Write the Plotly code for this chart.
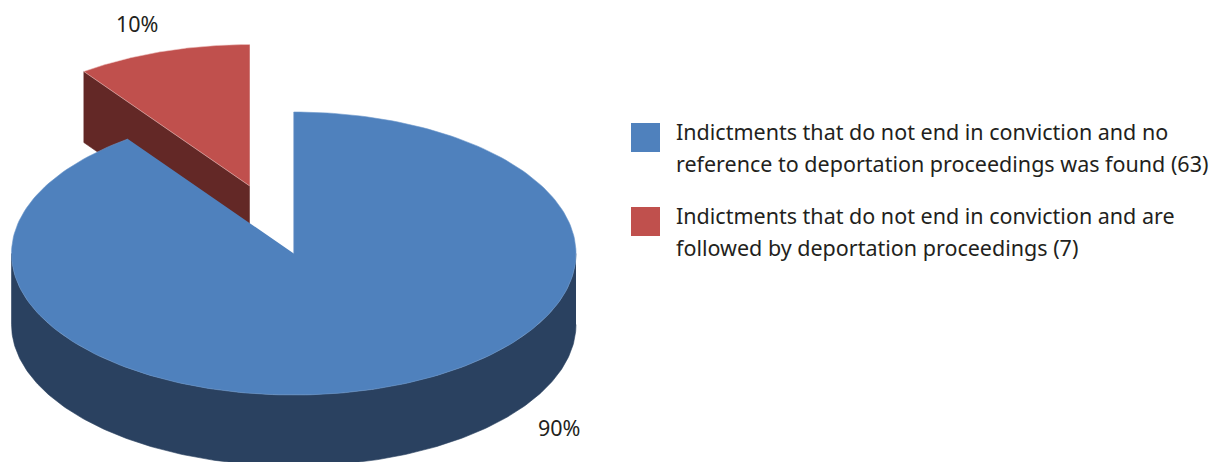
import numpy as np
import plotly.graph_objects as go

# Data
categories = ["No reference to deportation proceedings", "Followed by deportation proceedings"]
shares = [90, 10]
share_labels = ["90%", "10%"]
legend_lines = [
    ["Indictments that do not end in conviction and no",
     "reference to deportation proceedings was found (63)"],
    ["Indictments that do not end in conviction and are",
     "followed by deportation proceedings (7)"],
]

# Style
top_colors = ["#4F81BD", "#C0504D"]
wall_colors = ["#2A4160", "#632826"]
TEXT = "#231F20"
FONT = "Noto Sans"
FS = 21.5

# Projection of the tilted pie on to the page
CX, CY, RX, RY, DEPTH = 293.75, 253.5, 282.25, 141.5, 71
EXPLODE = [(0, 0), (-44, -67.5)]


def rim(a0, a1, dx=0, dy=0, n=240):
    t = np.radians(np.linspace(a0, a1, n))
    return CX + dx + RX * np.sin(t), CY + dy - RY * np.cos(t)


cum = np.cumsum([0] + shares) / sum(shares) * 360
fig = go.Figure()


def poly(x, y, color, name, line=None):
    fig.add_trace(go.Scatter(
        x=list(x), y=list(y), mode="lines", fill="toself", fillcolor=color, name=name,
        line=dict(color=line or color, width=0.6), showlegend=False, hoverinfo="name",
    ))


# red slice (behind): cut wall then top
dx, dy = EXPLODE[1]
a0, a1 = cum[1], cum[2]
ex, ey = rim(a0, a0, dx, dy, 1)
ax, ay = CX + dx, CY + dy
poly([ax, ex[0], ex[0], ax], [ay, ey[0], ey[0] + DEPTH, ay + DEPTH], wall_colors[1], categories[1])
x, y = rim(a0, a1, dx, dy)
poly([ax, *x], [ay, *y], top_colors[1], categories[1], "rgba(240,200,198,0.9)")

# blue slice: outer wall then top
dx, dy = EXPLODE[0]
a0, a1 = cum[0], cum[1]
x, y = rim(90, 270)
poly([*x, *x[::-1]], [*y, *(y[::-1] + DEPTH)], wall_colors[0], categories[0])
x, y = rim(a0, a1)
poly([CX, *x], [CY, *y], top_colors[0], categories[0], "#6C97CB")

# Percent labels
label_pos = [(559, 427), (137, 23)]
for lab, (px, py) in zip(share_labels, label_pos):
    fig.add_annotation(x=px, y=py, text=lab, showarrow=False, xanchor="center", yanchor="middle",
                       font=dict(family=FONT, size=FS, color=TEXT))

# Legend
swatch_tops = [123, 207]
for i, top in enumerate(swatch_tops):
    fig.add_shape(type="rect", x0=631, x1=660, y0=top, y1=top + 29,
                  fillcolor=top_colors[i], line_width=0)
    for j, line in enumerate(legend_lines[i]):
        fig.add_annotation(x=674, y=top + 8 + 32 * j, text=line, showarrow=False,
                           xanchor="left", yanchor="middle",
                           font=dict(family=FONT, size=FS, color=TEXT))

fig.update_layout(
    width=1210, height=462, margin=dict(l=0, r=0, t=0, b=0),
    paper_bgcolor="white", plot_bgcolor="white", showlegend=False,
    xaxis=dict(range=[0, 1210], visible=False, fixedrange=True),
    yaxis=dict(range=[462, 0], visible=False, fixedrange=True),
)
fig.write_html(
    "out.html",
    config={"displayModeBar": False},
    default_width="1210px",
    default_height="462px",
    post_script="document.body.style.margin='0';document.documentElement.style.overflow='hidden';",
)
